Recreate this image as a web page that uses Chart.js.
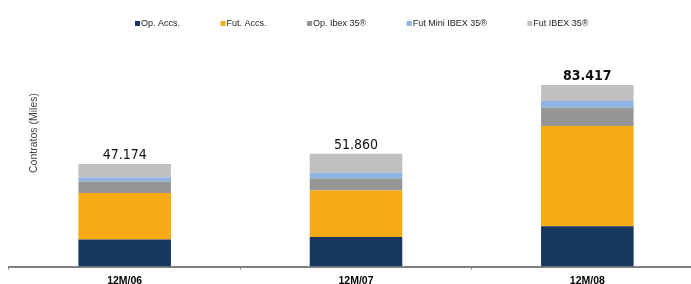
<!DOCTYPE html>
<html>
<head>
<meta charset="utf-8">
<script src="https://cdn.jsdelivr.net/npm/chart.js@4.4.1/dist/chart.umd.min.js"></script>
<style>
  html, body { margin: 0; padding: 0; background: #fff; overflow: hidden; }
  #wrap { width: 691px; height: 284px; overflow: hidden; position: relative; }
  #chart { position: absolute; left: 0; top: 0; }
</style>
</head>
<body>
<div id="wrap"><canvas id="chart" width="704" height="292"></canvas></div>
<script>
// --- datos (miles de contratos) ---
const categories = ['12M/06', '12M/07', '12M/08'];
const opAccs   = [12.4, 13.6, 18.5];
const futAccs  = [21.4, 21.4, 46.1];
const opIbex   = [5.3, 5.5, 8.4];
const futMini  = [1.8, 2.7, 3.1];
const futIbex  = [6.274, 8.66, 7.317];
const totalLabels = ['47.174', '51.860', '83.417'];
const boldTotal = [false, false, true];

const seriesNames  = ['Op. Accs.', 'Fut. Accs.', 'Op. Ibex 35®', 'Fut Mini IBEX 35®', 'Fut IBEX 35®'];
const seriesColors = ['#17375e', '#f6aa13', '#969696', '#8db4e2', '#c0c0c0'];
const seriesData   = [opAccs, futAccs, opIbex, futMini, futIbex];

// --- leyenda propia (cuadro pequeño pegado al texto) ---
const legendPlugin = {
  id: 'miniLegend',
  afterDraw(chart) {
    const c = chart.ctx;
    c.save();
    c.font = '9px "Liberation Sans", Arial, sans-serif';
    c.textBaseline = 'middle';
    let x = 135;
    const y = 23.5;
    chart.data.datasets.forEach(ds => {
      c.fillStyle = ds.backgroundColor;
      c.fillRect(x, y - 2.5, 5, 5);
      c.fillStyle = '#222';
      c.fillText(ds.label, x + 6, y);
      x += 6 + c.measureText(ds.label).width + 40.5;
    });
    c.restore();
  }
};

// --- totales encima de cada barra + título del eje ---
const totalsPlugin = {
  id: 'totals',
  afterDatasetsDraw(chart) {
    const c = chart.ctx;
    const last = chart.getDatasetMeta(chart.data.datasets.length - 1);
    c.save();
    c.textAlign = 'center';
    c.textBaseline = 'middle';
    c.fillStyle = '#111';
    last.data.forEach((bar, i) => {
      c.font = (boldTotal[i] ? 'bold ' : '') + '14px "DejaVu Sans Condensed", Tahoma, sans-serif';
      c.fillText(totalLabels[i], bar.x, bar.y - 8.5);
    });
    // título vertical
    c.translate(34, 133);
    c.rotate(-Math.PI / 2);
    c.font = '10.5px "Liberation Sans", Arial, sans-serif';
    c.fillStyle = '#444';
    c.fillText('Contratos (Miles)', 0, 0);
    c.restore();
  }
};

new Chart(document.getElementById('chart'), {
  type: 'bar',
  data: {
    labels: categories,
    datasets: seriesData.map((d, i) => ({
      label: seriesNames[i],
      data: d,
      backgroundColor: seriesColors[i],
      borderWidth: 0,
      barPercentage: 0.4,
      categoryPercentage: 1
    }))
  },
  options: {
    responsive: false,
    animation: false,
    layout: { padding: { left: 9, right: 1, top: 49, bottom: 0 } },
    scales: {
      x: {
        stacked: true,
        offset: true,
        border: { color: '#808080', width: 2 },
        grid: { offset: true, drawOnChartArea: false, drawTicks: true, tickLength: 3, color: '#808080' },
        ticks: {
          color: '#000',
          padding: 6,
          font: { family: '"Liberation Sans", Arial, sans-serif', size: 10.5, weight: 'bold', lineHeight: 1 }
        }
      },
      y: {
        stacked: true,
        display: false,
        min: 0,
        max: 100
      }
    },
    plugins: {
      legend: { display: false },
      tooltip: { enabled: false }
    }
  },
  plugins: [legendPlugin, totalsPlugin]
});
</script>
</body>
</html>
